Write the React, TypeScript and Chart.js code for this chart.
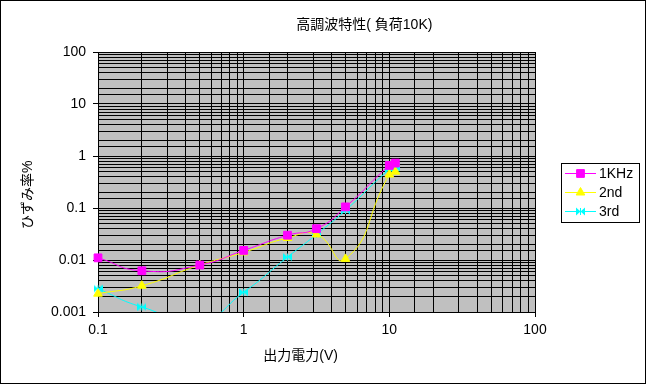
import React, { useEffect, useRef } from 'react';
import { Chart, registerables } from 'chart.js';
import { drawPoint } from 'chart.js/helpers';

Chart.register(...registerables);

// ---- data ----
const xValues = [0.1, 0.2, 0.5, 1, 2, 3.16, 5, 10, 11];
const khz1 = [0.011, 0.0062, 0.008, 0.0153, 0.03, 0.04, 0.105, 0.66, 0.73];
const second = [0.00225, 0.0032, 0.008, 0.014, 0.0265, 0.031, 0.0105, 0.44, 0.5];
const third = [0.0028, 0.00125, 0.0007, 0.0024, 0.0114, 0.031, 0.09, 0.55, 0.6];
const seriesNames = ['1KHz', '2nd', '3rd'];
const seriesColors = ['#FF00FF', '#FFFF00', '#00FFFF'];
const xTickLabels = ['0.1', '1', '10', '100'];
const yTickLabels = ['0.001', '0.01', '0.1', '1', '10', '100'];
const chartTitle = '高調波特性( 負荷10K)';
const xTitle = '出力電力(V)';
const yTitle = 'ひずみ率%';

const FONT = "'Liberation Sans', 'Noto Sans CJK JP', sans-serif";

function isMajor(v: number) {
  const l = Math.log10(v);
  return Math.abs(l - Math.round(l)) < 1e-6;
}
function labelFor(v: number, labels: string[]) {
  for (const s of labels) {
    const n = parseFloat(s);
    if (Math.abs(n - v) / n < 1e-6) return s;
  }
  return '';
}

function makeBowtie(color: string) {
  const c = document.createElement('canvas');
  c.width = 9;
  c.height = 9;
  const g = c.getContext('2d')!;
  g.fillStyle = color;
  g.beginPath();
  g.moveTo(0, 0.5);
  g.lineTo(4.5, 4.5);
  g.lineTo(0, 8.5);
  g.closePath();
  g.fill();
  g.beginPath();
  g.moveTo(9, 0.5);
  g.lineTo(4.5, 4.5);
  g.lineTo(9, 8.5);
  g.closePath();
  g.fill();
  g.fillRect(4, 1, 1, 7);
  return c;
}

const bgPlugin = {
  id: 'bgPlugin',
  beforeDraw(chart: any) {
    const { ctx, width, height, chartArea } = chart;
    ctx.save();
    ctx.fillStyle = '#ffffff';
    ctx.fillRect(0, 0, width, height);
    ctx.fillStyle = '#C0C0C0';
    ctx.fillRect(chartArea.left, chartArea.top, chartArea.right - chartArea.left, chartArea.bottom - chartArea.top);
    ctx.strokeStyle = '#000';
    ctx.lineWidth = 1;
    ctx.strokeRect(0.5, 0.5, width - 2, height - 2);
    ctx.restore();
  },
};

const legendPlugin = {
  id: 'boxLegend',
  afterDraw(chart: any) {
    const { ctx } = chart;
    ctx.save();
    ctx.strokeStyle = '#000';
    ctx.lineWidth = 1;
    ctx.strokeRect(561.5, 163.5, 78, 59);
    const ys = [173.5, 192.5, 211.5];
    chart.data.datasets.forEach((ds: any, i: number) => {
      const y = ys[i];
      ctx.strokeStyle = ds.borderColor;
      ctx.lineWidth = 1;
      ctx.beginPath();
      ctx.moveTo(565, y);
      ctx.lineTo(596, y);
      ctx.stroke();
      ctx.fillStyle = ds.backgroundColor;
      ctx.strokeStyle = ds.borderColor;
      drawPoint(ctx, { pointStyle: ds.pointStyle, rotation: 0, radius: ds.pointRadius, borderWidth: 1 }, 580.5, y);
      ctx.fillStyle = '#000';
      ctx.font = `14px ${FONT}`;
      ctx.textBaseline = 'middle';
      ctx.textAlign = 'left';
      ctx.fillText(ds.label, 599, y + 0.5);
    });
    ctx.restore();
  },
};

export default function App() {
  const ref = useRef<HTMLCanvasElement>(null);
  useEffect(() => {
    document.body.style.margin = '0';
    const bow = makeBowtie(seriesColors[2]);
    const seriesData = [khz1, second, third];
    const styles: any[] = ['rect', 'triangle', bow];
    const radii = [5.5, 5, 4.5];
    const datasets = seriesData.map((vals, i) => ({
      label: seriesNames[i],
      data: xValues.map((x, j) => ({ x, y: vals[j] })),
      borderColor: seriesColors[i],
      backgroundColor: seriesColors[i],
      pointBackgroundColor: seriesColors[i],
      pointBorderColor: seriesColors[i],
      pointStyle: styles[i],
      pointRadius: radii[i],
      pointBorderWidth: 1,
      borderWidth: 1,
      tension: 0.55,
      clip: { left: 10, right: 10, top: 0, bottom: 0 },
    }));
    const tickColor = (c: any) => (c.tick && isMajor(c.tick.value) ? '#000' : 'rgba(0,0,0,0)');
    const chart = new Chart(ref.current!, {
      type: 'line',
      data: { datasets },
      plugins: [bgPlugin, legendPlugin],
      options: {
        responsive: false,
        animation: false,
        devicePixelRatio: 1,
        layout: { padding: 0 },
        font: { family: FONT },
        plugins: {
          legend: { display: false },
          tooltip: { enabled: false },
          title: {
            display: true,
            text: '\u3000\u3000\u3000\u3000\u3000   ' + chartTitle,
            color: '#000',
            font: { size: 14, weight: 'normal', family: FONT },
            padding: { top: 16.6, bottom: 18.6 },
          },
        },
        scales: {
          x: {
            type: 'logarithmic',
            min: 0.1,
            max: 100,
            position: 'bottom',
            grid: { color: '#000', lineWidth: 1, drawTicks: true, tickLength: 5, tickColor },
            border: { color: '#000', width: 1 },
            ticks: {
              autoSkip: false,
              maxRotation: 0,
              color: '#000',
              font: { size: 14, family: FONT },
              padding: 5,
              callback: (v: any) => labelFor(Number(v), xTickLabels),
            },
            title: {
              display: true,
              text: xTitle + '\u3000\u3000 ',
              color: '#000',
              font: { size: 14, family: FONT },
              padding: { top: 0, bottom: 20 },
            },
            afterFit: (s: any) => {
              s.height = 73;
            },
          },
          y: {
            type: 'logarithmic',
            min: 0.001,
            max: 100,
            position: 'left',
            grid: { color: '#000', lineWidth: 1, drawTicks: true, tickLength: 5, tickColor },
            border: { color: '#000', width: 1 },
            ticks: {
              autoSkip: false,
              color: '#000',
              font: { size: 14, family: FONT },
              padding: 7,
              callback: (v: any) => labelFor(Number(v), yTickLabels),
            },
            title: {
              display: true,
              text: yTitle + '\u3000   ',
              color: '#000',
              font: { size: 14, family: FONT },
              padding: { top: 20, bottom: 0 },
            },
            afterFit: (s: any) => {
              s.width = 98;
            },
          },
          yRight: {
            type: 'linear',
            position: 'right',
            display: true,
            grid: { display: false },
            border: { display: false },
            ticks: { display: false },
            afterFit: (s: any) => {
              s.width = 112;
            },
          },
        },
      } as any,
    });
    return () => chart.destroy();
  }, []);
  return (
    <div style={{ width: 647, height: 385 }}>
      <canvas ref={ref} width={647} height={385} style={{ display: 'block' }} />
    </div>
  );
}
